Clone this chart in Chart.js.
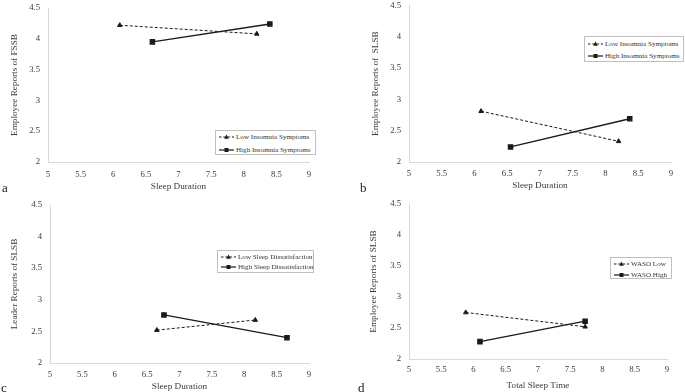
<!DOCTYPE html>
<html><head><meta charset="utf-8">
<script src="https://cdn.jsdelivr.net/npm/chart.js@4"></script>
<style>
body{margin:0;width:685px;height:392px;background:#fff;position:relative;overflow:hidden;font-family:"Liberation Serif","Times New Roman",serif;}
.panel{position:absolute;}
.lg{position:absolute;box-sizing:border-box;border:1px solid #bfbfbf;background:#fff;font-size:7.1px;color:#333;padding:0;}
.lg .row{display:flex;align-items:center;white-space:nowrap;position:absolute;left:3px;}
.lg svg{margin-right:2px;flex:none}
.letter{position:absolute;font-size:13px;color:#222;line-height:13px;}
</style></head>
<body>
<div class="panel" style="left:0;top:0;width:342px;height:196px"><canvas id="cA"></canvas></div>
<div class="panel" style="left:342px;top:0;width:343px;height:196px"><canvas id="cB"></canvas></div>
<div class="panel" style="left:0;top:196px;width:342px;height:196px"><canvas id="cC"></canvas></div>
<div class="panel" style="left:342px;top:196px;width:343px;height:196px"><canvas id="cD"></canvas></div>

<div class="letter" style="left:2px;top:181px">a</div>
<div class="letter" style="left:360px;top:181px">b</div>
<div class="letter" style="left:1px;top:381px">c</div>
<div class="letter" style="left:358px;top:381px">d</div>

<div id="lgA" class="lg" style="left:215px;top:130px;width:101px;height:25px"></div>
<div id="lgB" class="lg" style="left:584px;top:36px;width:100px;height:26px"></div>
<div id="lgC" class="lg" style="left:217px;top:250px;width:97px;height:23px"></div>
<div id="lgD" class="lg" style="left:610px;top:257px;width:62px;height:22px"></div>

<script>
// ---------- DATA ----------
const xTickLabels = ["5","5.5","6","6.5","7","7.5","8","8.5","9"];
const yTickLabels = ["2","2.5","3","3.5","4","4.5"];

// Panel a
const aLowX  = [6.1, 8.2];  const aLowY  = [4.22, 4.08];
const aHighX = [6.6, 8.4];  const aHighY = [3.95, 4.24];
// Panel b
const bLowX  = [6.1, 8.2];  const bLowY  = [2.81, 2.33];
const bHighX = [6.55, 8.37]; const bHighY = [2.24, 2.69];
// Panel c
const cLowX  = [6.65, 8.17]; const cLowY  = [2.52, 2.68];
const cHighX = [6.76, 8.66]; const cHighY = [2.76, 2.40];
// Panel d
const dLowX  = [5.88, 7.73]; const dLowY  = [2.75, 2.52];
const dHighX = [6.1, 7.73];  const dHighY = [2.28, 2.61];

const aLabels = ["Low Insomnia Symptoms", "High Insomnia Symptoms"];
const bLabels = ["Low Insomnia Symptoms", "High Insomnia Symptoms"];
const cLabels = ["Low Sleep Dissatisfaction", "High Sleep Dissatisfaction"];
const dLabels = ["WASO Low", "WASO High"];

const aTitles = ["Sleep Duration", "Employee Reports of FSSB"];
const bTitles = ["Sleep Duration", "Employee Reports of  SLSB"];
const cTitles = ["Sleep Duration", "Leader Reports of SLSB"];
const dTitles = ["Total Sleep Time", "Employee Reports of SLSB"];

// ---------- helpers ----------
const pts = (xs, ys) => xs.map((x, i) => ({x: x, y: ys[i]}));
const FONT = "'Liberation Serif','Times New Roman',serif";
const TXT = '#3a3a3a';

function makeChart(id, lowX, lowY, highX, highY, labels, titles, L) {
  const xVals = xTickLabels.map(Number), yVals = yTickLabels.map(Number);
  new Chart(document.getElementById(id), {
    type: 'line',
    data: {
      datasets: [
        {label: labels[0], data: pts(lowX, lowY), borderColor: '#1a1a1a', backgroundColor: '#1a1a1a',
         borderWidth: 1, borderDash: [3, 2], pointStyle: 'triangle', pointRadius: 2.6, tension: 0},
        {label: labels[1], data: pts(highX, highY), borderColor: '#1a1a1a', backgroundColor: '#1a1a1a',
         borderWidth: 1.3, pointStyle: 'rect', pointRadius: 3, tension: 0}
      ]
    },
    options: {
      responsive: true, maintainAspectRatio: false, animation: false,
      layout: {padding: {left: 0, top: L.top, right: L.right, bottom: 0}},
      plugins: {legend: {display: false}, tooltip: {enabled: false}},
      scales: {
        x: {
          type: 'linear', min: xVals[0], max: xVals[xVals.length - 1],
          afterBuildTicks: s => { s.ticks = xVals.map(v => ({value: v})); },
          afterFit: s => { s.height = L.xh; },
          grid: {display: true, color: 'transparent', drawOnChartArea: false, drawTicks: true, tickLength: L.xtl},
          border: {display: true, color: '#d9d9d9', width: 1},
          ticks: {padding: 0, color: TXT, font: {family: FONT, size: 8.7, lineHeight: 1.2},
                  callback: (v) => xTickLabels[xVals.indexOf(v)] ?? ''},
          title: {display: true, text: titles[0], color: TXT,
                  font: {family: FONT, size: 9.2}, padding: {top: 0, bottom: L.xtb}}
        },
        y: {
          type: 'linear', min: yVals[0], max: yVals[yVals.length - 1],
          afterBuildTicks: s => { s.ticks = yVals.map(v => ({value: v})); },
          afterFit: s => { s.width = L.left; },
          grid: {display: true, color: 'transparent', drawOnChartArea: false, drawTicks: true, tickLength: 8},
          border: {display: true, color: '#d9d9d9', width: 1},
          ticks: {padding: 0, color: TXT, font: {family: FONT, size: 8.7, lineHeight: 0.8},
                  callback: (v) => yTickLabels[yVals.indexOf(v)] ?? ''},
          title: {display: true, text: titles[1], color: TXT,
                  font: {family: FONT, size: 9.2}, padding: {top: L.ytp, bottom: 0}}
        }
      }
    }
  });
}

function legend(id, labels, y1, y2) {
  const el = document.getElementById(id);
  const low = '<svg width="15" height="8"><line x1="0" y1="4" x2="15" y2="4" stroke="#1a1a1a" stroke-width="1" stroke-dasharray="2.5,1.8"/><polygon points="7.5,1.6 9.8,5.8 5.2,5.8" fill="#1a1a1a"/></svg>';
  const high = '<svg width="15" height="8"><line x1="0" y1="4" x2="15" y2="4" stroke="#1a1a1a" stroke-width="1.2"/><rect x="5.5" y="2" width="4" height="4" fill="#1a1a1a"/></svg>';
  el.innerHTML = '<div class="row" style="top:' + (y1 - 5) + 'px;height:10px">' + low + '<span>' + labels[0] + '</span></div>' +
                 '<div class="row" style="top:' + (y2 - 5) + 'px;height:10px">' + high + '<span>' + labels[1] + '</span></div>';
}

makeChart('cA', aLowX, aLowY, aHighX, aHighY, aLabels, aTitles,
  {left: 48, right: 33, top: 8, xh: 34, xtl: 7, xtb: 3.4, ytp: 9.4});
makeChart('cB', bLowX, bLowY, bHighX, bHighY, bLabels, bTitles,
  {left: 67, right: 14, top: 4, xh: 34, xtl: 6, xtb: 4.4, ytp: 28.4});
makeChart('cC', cLowX, cLowY, cHighX, cHighY, cLabels, cTitles,
  {left: 50, right: 33, top: 9, xh: 29, xtl: 6, xtb: 0, ytp: 9.4});
makeChart('cD', dLowX, dLowY, dHighX, dHighY, dLabels, dTitles,
  {left: 67, right: 18, top: 8, xh: 33, xtl: 5.5, xtb: 1.1, ytp: 26.4});

// row centres relative to each legend box's top (border-box, inside 1px border)
legend('lgA', aLabels, 6, 18.5);
legend('lgB', bLabels, 6.5, 19);
legend('lgC', cLabels, 5.5, 16);
legend('lgD', dLabels, 5.5, 17);
</script>
</body></html>
